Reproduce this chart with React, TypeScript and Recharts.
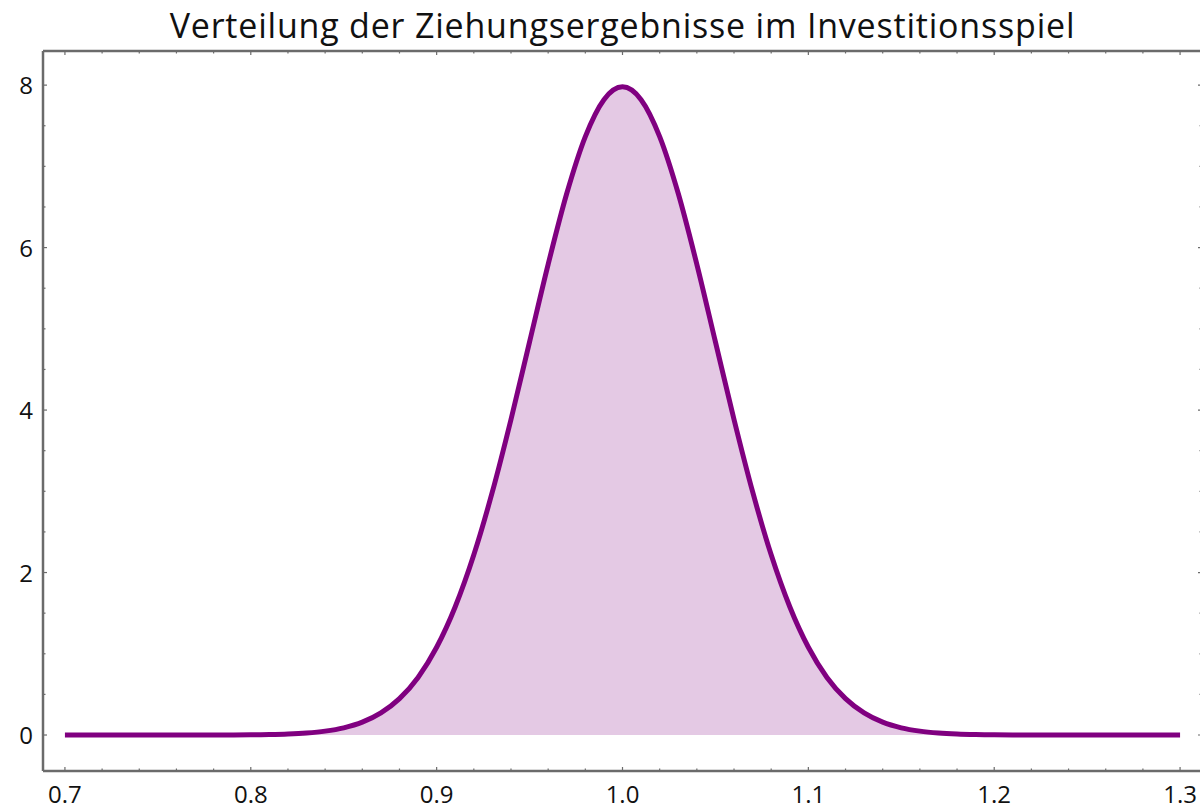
import { AreaChart, Area, XAxis, YAxis } from "recharts";

// Ziehungsergebnis (x) und Dichte (y)
const xValues = [
  0.7, 0.71, 0.72, 0.73, 0.74, 0.75, 0.76, 0.77, 0.78, 0.79,
  0.8, 0.81, 0.82, 0.83, 0.84, 0.85, 0.86, 0.87, 0.88, 0.89,
  0.9, 0.91, 0.92, 0.93, 0.94, 0.95, 0.96, 0.97, 0.98, 0.99,
  1.0, 1.01, 1.02, 1.03, 1.04, 1.05, 1.06, 1.07, 1.08, 1.09,
  1.1, 1.11, 1.12, 1.13, 1.14, 1.15, 1.16, 1.17, 1.18, 1.19,
  1.2, 1.21, 1.22, 1.23, 1.24, 1.25, 1.26, 1.27, 1.28, 1.29, 1.3,
];
const densities = [
  0, 0, 0, 0, 0, 0, 0.0001, 0.0003, 0.0005, 0.0012,
  0.0027, 0.0058, 0.0122, 0.0247, 0.0477, 0.0886, 0.158, 0.272, 0.448, 0.709,
  1.08, 1.579, 2.218, 2.995, 3.884, 4.839, 5.794, 6.665, 7.366, 7.821,
  7.979, 7.821, 7.366, 6.665, 5.794, 4.839, 3.884, 2.995, 2.218, 1.579,
  1.08, 0.709, 0.448, 0.272, 0.158, 0.0886, 0.0477, 0.0247, 0.0122, 0.0058,
  0.0027, 0.0012, 0.0005, 0.0003, 0.0001, 0, 0, 0, 0, 0, 0,
];

const xTicks = [
  0.7, 0.72, 0.74, 0.76, 0.78, 0.8, 0.82, 0.84, 0.86, 0.88, 0.9, 0.92, 0.94, 0.96, 0.98,
  1.0, 1.02, 1.04, 1.06, 1.08, 1.1, 1.12, 1.14, 1.16, 1.18, 1.2, 1.22, 1.24, 1.26, 1.28, 1.3,
];
const yTicks = [0, 0.5, 1, 1.5, 2, 2.5, 3, 3.5, 4, 4.5, 5, 5.5, 6, 6.5, 7, 7.5, 8];

const title = "Verteilung der Ziehungsergebnisse im Investitionsspiel";

const data = xValues.map((x, i) => ({ x, y: densities[i] }));

const FONT = "'Open Sans', sans-serif";
const FRAME = "#6b6b6b";

const isMajorX = (v: number) => Math.abs(v * 10 - Math.round(v * 10)) < 1e-6;
const isMajorY = (v: number) => Math.abs(v / 2 - Math.round(v / 2)) < 1e-6;

function BottomTick(props: any) {
  const { x, y, payload } = props;
  const major = isMajorX(payload.value);
  return (
    <g>
      <line x1={x} x2={x} y1={y} y2={y - (major ? 4 : 2.5)} stroke={FRAME} strokeWidth={1.2} />
      {major && (
        <text x={x} y={y + 32} textAnchor="middle" fontSize={24} fontFamily={FONT} fill="#111">
          {payload.value.toFixed(1)}
        </text>
      )}
    </g>
  );
}

function TopTick(props: any) {
  const { x, y, payload } = props;
  const major = isMajorX(payload.value);
  return <line x1={x} x2={x} y1={y} y2={y + (major ? 4 : 2.5)} stroke={FRAME} strokeWidth={1.2} />;
}

function LeftTick(props: any) {
  const { x, y, payload } = props;
  const major = isMajorY(payload.value);
  return (
    <g>
      <line x1={x} x2={x + (major ? 4 : 2.5)} y1={y} y2={y} stroke={FRAME} strokeWidth={1.2} />
      {major && (
        <text x={x - 10} y={y + 9} textAnchor="end" fontSize={24} fontFamily={FONT} fill="#111">
          {payload.value}
        </text>
      )}
    </g>
  );
}

function RightTick(props: any) {
  const { x, y, payload } = props;
  const major = isMajorY(payload.value);
  return <line x1={x} x2={x - (major ? 4 : 2.5)} y1={y} y2={y} stroke={FRAME} strokeWidth={1.2} />;
}

export default function App() {
  const xDomain = [0.6882, 1.3118];
  const yDomain = [-0.443, 8.42];
  const axisLine = { stroke: FRAME, strokeWidth: 2.5 };
  return (
    <div
      style={{
        position: "absolute",
        left: 0,
        top: 0,
        width: 1200,
        height: 811,
        overflow: "hidden",
        background: "#fff",
      }}
    >
      <div
        style={{
          position: "absolute",
          left: 0,
          top: 7.8,
          width: 1245,
          textAlign: "center",
          fontFamily: FONT,
          fontSize: 34,
          letterSpacing: 0.8,
          lineHeight: "34px",
          color: "#111",
          whiteSpace: "nowrap",
        }}
      >
        {title}
      </div>
      <AreaChart
        width={1204}
        height={811}
        data={data}
        margin={{ top: 0, right: 0, bottom: 0, left: 0 }}
      >
        <XAxis
          dataKey="x"
          type="number"
          domain={xDomain}
          allowDataOverflow
          ticks={xTicks}
          interval={0}
          height={40}
          tickSize={0}
          tickMargin={0}
          tickLine={false}
          axisLine={axisLine}
          tick={<BottomTick />}
        />
        <XAxis
          xAxisId="top"
          orientation="top"
          dataKey="x"
          type="number"
          domain={xDomain}
          allowDataOverflow
          ticks={xTicks}
          interval={0}
          height={51}
          tickSize={0}
          tickMargin={0}
          tickLine={false}
          axisLine={axisLine}
          tick={<TopTick />}
        />
        <YAxis
          type="number"
          domain={yDomain}
          allowDataOverflow
          ticks={yTicks}
          interval={0}
          width={43}
          tickSize={0}
          tickMargin={0}
          tickLine={false}
          axisLine={axisLine}
          tick={<LeftTick />}
        />
        <YAxis
          yAxisId="right"
          orientation="right"
          type="number"
          domain={yDomain}
          allowDataOverflow
          ticks={yTicks}
          interval={0}
          width={2}
          tickSize={0}
          tickMargin={0}
          tickLine={false}
          axisLine={axisLine}
          tick={<RightTick />}
        />
        <Area
          dataKey="y"
          type="monotone"
          baseValue={0}
          stroke="#800080"
          strokeWidth={5}
          fill="#800080"
          fillOpacity={0.21}
          isAnimationActive={false}
          dot={false}
          activeDot={false}
        />
      </AreaChart>
    </div>
  );
}
